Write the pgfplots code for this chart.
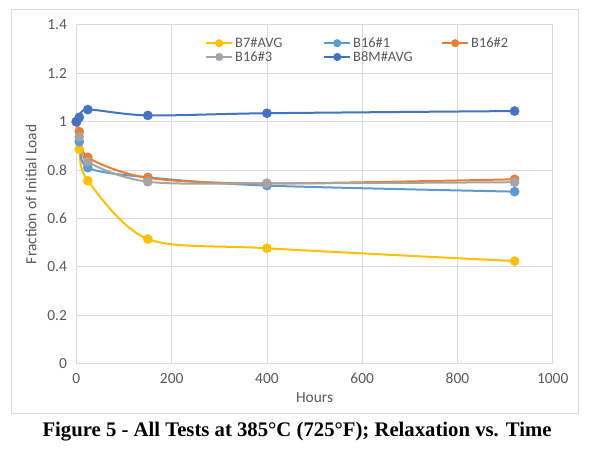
\documentclass[border=0pt]{standalone}
\usepackage{pgfplots}
\pgfplotsset{compat=1.18}
\usepackage{fontspec}
\setmainfont{Carlito}
\newfontfamily\capfont{Liberation Serif}
\definecolor{cB7}{HTML}{FFC000}
\definecolor{cB161}{HTML}{5B9BD5}
\definecolor{cB162}{HTML}{ED7D31}
\definecolor{cB163}{HTML}{A5A5A5}
\definecolor{cB8M}{HTML}{4472C4}
\definecolor{gridc}{HTML}{D9D9D9}
\definecolor{txtc}{HTML}{595959}
\begin{document}
\begin{tikzpicture}
\path[use as bounding box] (0bp,0bp) rectangle (600bp,450bp);
\draw[gridc, line width=1bp] (11bp,36bp) rectangle (578bp,440bp);
\begin{axis}[
  at={(76.4bp,86.3bp)}, anchor=south west,
  scale only axis, width=476.3bp, height=338.8bp,
  xmin=0, xmax=1000, ymin=0, ymax=1.4,
  xtick={0,200,...,1000}, ytick={0,0.2,...,1.4},
  axis line style={draw=none},
  major tick length=0pt,
  grid=major, grid style={gridc, line width=0.8bp},
  tick label style={font=\fontsize{15.5}{17}\selectfont, text=txtc},
  /pgf/number format/assume math mode=true,
  /pgf/number format/1000 sep={},
  yticklabel style={xshift=-6bp},
  xticklabel style={yshift=-6bp},
  xlabel={Hours}, ylabel={Fraction of Initial Load},
  label style={font=\fontsize{15.5}{17}\selectfont, text=txtc},
  xlabel style={yshift=-2bp},
  ylabel style={yshift=4bp},
  clip=false,
  every axis plot/.append style={line width=2bp, smooth, mark=*, mark size=3.8bp},
  legend columns=3,
  legend style={draw=none, fill=none, at={(0.268,0.972)}, anchor=north west,
    font=\fontsize{14.5}{15}\selectfont, text=txtc, cells={anchor=west},
    /tikz/every even column/.append style={column sep=0bp},
    row sep=-1.5bp, inner sep=1bp},
  legend image code/.code={\draw[mark repeat=2, mark phase=2, line width=2bp, mark size=3bp] plot coordinates {(0bp,0bp) (13bp,0bp) (26bp,0bp)};},
]
\addplot[cB7, mark options={fill=cB7, draw=cB7}] coordinates {(0,1.0) (6,0.886) (24,0.756) (150,0.515) (400,0.477) (920,0.424)};
\addlegendentry{\makebox[86bp][l]{B7\#AVG}}
\addplot[cB161, mark options={fill=cB161, draw=cB161}] coordinates {(0,1.0) (6,0.917) (24,0.81) (150,0.77) (400,0.736) (920,0.711)};
\addlegendentry{\makebox[86bp][l]{B16\#1}}
\addplot[cB162, mark options={fill=cB162, draw=cB162}] coordinates {(0,1.0) (6,0.959) (24,0.853) (150,0.768) (400,0.745) (920,0.762)};
\addlegendentry{B16\#2}
\addplot[cB163, mark options={fill=cB163, draw=cB163}] coordinates {(0,1.0) (6,0.938) (24,0.835) (150,0.752) (400,0.745) (920,0.750)};
\addlegendentry{\makebox[86bp][l]{B16\#3}}
\addplot[cB8M, mark options={fill=cB8M, draw=cB8M}] coordinates {(0,1.0) (6,1.018) (24,1.05) (150,1.026) (400,1.035) (920,1.044)};
\addlegendentry{\makebox[86bp][l]{B8M\#AVG}}
\end{axis}
\node[font=\capfont\bfseries\fontsize{20.8}{23}\selectfont] at (297bp,18bp) {Figure 5 - All Tests at 385°C (725°F); Relaxation vs. Time};
\end{tikzpicture}
\end{document}
